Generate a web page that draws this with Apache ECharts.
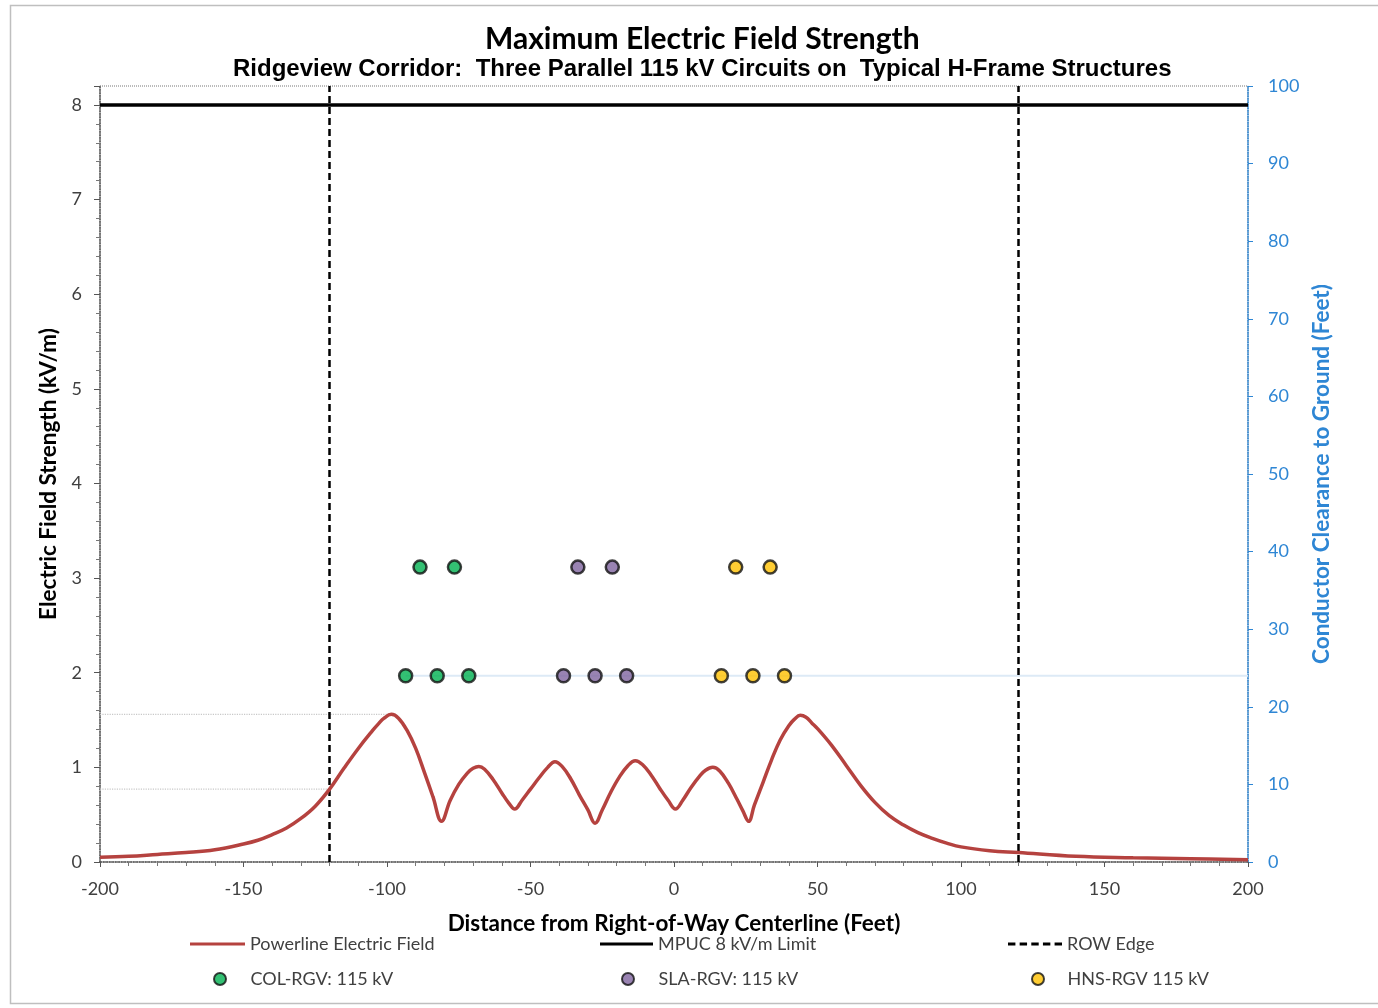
<!DOCTYPE html>
<html>
<head>
<meta charset="utf-8">
<script src="https://cdn.jsdelivr.net/npm/echarts@6/dist/echarts.min.js"></script>
<style>
  html, body { margin: 0; padding: 0; background: #ffffff; }
  #chart { width: 1378px; height: 1008px; }
</style>
</head>
<body>
<div id="chart"></div>
<script>
// Calculated electric field profile across the corridor (feet, kV/m)
const distanceFt = [
  -200, -190, -180, -170, -160, -150, -145, -140, -135, -130, -125, -120,
  -115, -110, -105, -103, -101, -98.5, -96, -93, -90, -87, -84, -81,
  -78, -75, -72, -70, -68, -66, -63, -60, -57.5, -55.5, -53, -50, -47, -44,
  -41.5, -39, -36, -33, -30, -27.5, -25, -22, -19, -16, -13.5, -11, -8, -5,
  -2, 0.5, 3, 6, 9, 11, 13.5, 16, 19, 22, 24, 26, 28, 31, 34, 37, 40, 42,
  44, 46, 48, 50, 55, 60, 65, 70, 75, 80, 85, 90, 95, 100, 110, 120, 140, 160,
  180, 200
];
const fieldKvPerM = [
  0.05, 0.06, 0.08, 0.10, 0.13, 0.19, 0.23, 0.29, 0.36, 0.46, 0.59, 0.77,
  0.99, 1.20, 1.39, 1.46, 1.52, 1.56, 1.52, 1.39, 1.20, 0.95, 0.69, 0.43,
  0.65, 0.82, 0.94, 0.99, 1.01, 0.98, 0.87, 0.73, 0.62, 0.56, 0.65, 0.77, 0.89, 1.00,
  1.06, 1.01, 0.88, 0.71, 0.55, 0.41, 0.55, 0.74, 0.90, 1.02, 1.07, 1.03, 0.92, 0.78,
  0.65, 0.56, 0.65, 0.79, 0.91, 0.97, 1.00, 0.96, 0.83, 0.66, 0.54, 0.43, 0.60, 0.84,
  1.08, 1.29, 1.44, 1.51,
  1.55, 1.53, 1.47, 1.41, 1.23, 1.02, 0.81, 0.63, 0.49, 0.39, 0.31, 0.25, 0.20, 0.16,
  0.12, 0.10, 0.06, 0.045, 0.035, 0.025
];

// Regulatory limit and right-of-way edges
const mpucLimitKv = 8;
const rowEdgeFt = [-120, 120];

// Conductor positions (offset from centerline, ft) and clearance to ground (ft)
const colOffsetFt = [-93.5, -82.5, -71.5, -88.5, -76.5];
const colClearanceFt = [24, 24, 24, 38, 38];
const slaOffsetFt = [-38.5, -27.5, -16.5, -33.5, -21.5];
const slaClearanceFt = [24, 24, 24, 38, 38];
const hnsOffsetFt = [16.5, 27.5, 38.5, 21.5, 33.5];
const hnsClearanceFt = [24, 24, 24, 38, 38];

// Axis tick values
const xTicks = [-200, -150, -100, -50, 0, 50, 100, 150, 200];
const fieldTicks = [0, 1, 2, 3, 4, 5, 6, 7, 8];
const clearanceTicks = [0, 10, 20, 30, 40, 50, 60, 70, 80, 90, 100];

const pairs = (xs, ys) => xs.map((x, i) => [x, ys[i]]);

const fieldData = pairs(distanceFt, fieldKvPerM);

// Reference lines: peak field and field at the west ROW edge
let peakIdx = 0;
fieldKvPerM.forEach((v, i) => { if (v > fieldKvPerM[peakIdx]) peakIdx = i; });
const edgeIdx = distanceFt.indexOf(rowEdgeFt[0]);
const peakRef = [[xTicks[0], fieldKvPerM[peakIdx]], [distanceFt[peakIdx], fieldKvPerM[peakIdx]]];
const edgeRef = [[xTicks[0], fieldKvPerM[edgeIdx]], [distanceFt[edgeIdx], fieldKvPerM[edgeIdx]]];

// Lower conductor level guide
const lowerLevel = [[colOffsetFt[0], colClearanceFt[0]], [xTicks[xTicks.length - 1], colClearanceFt[0]]];

const FONT = 'Lato, "Open Sans", sans-serif';
const TXT = '#404040';
const BLUE = '#2E86D4';

// Legend glyphs: a solid bar and a five-dash bar
const SOLID_ICON = 'path://M0,0 L55,0 L55,3 L0,3 Z';
const DASH_ICON = 'path://M0,0h7v3h-7z M11,0h7v3h-7z M22,0h7v3h-7z M33,0h7v3h-7z M44,0h7v3h-7z';

const chart = echarts.init(document.getElementById('chart'), null, { renderer: 'canvas' });

const legendBase = {
  orient: 'horizontal',
  itemGap: 0,
  padding: 0,
  textStyle: { fontFamily: FONT, fontSize: 18, color: TXT },
  selectedMode: false
};

chart.setOption({
  animation: false,
  backgroundColor: '#ffffff',
  title: [
    {
      text: 'Maximum Electric Field Strength',
      left: 480, top: 19,
      textStyle: { fontFamily: FONT, fontWeight: 'bold', fontSize: 30, color: '#000' }
    },
    {
      text: 'Ridgeview Corridor:  Three Parallel 115 kV Circuits on  Typical H-Frame Structures',
      left: 228, top: 52,
      textStyle: { fontFamily: '"Liberation Sans", Arial, sans-serif', fontWeight: 'bold', fontSize: 24, color: '#000' }
    }
  ],
  graphic: [
    {
      type: 'rect', silent: true, z: -10,
      shape: { x: 10.5, y: 5.5, width: 1400, height: 998 },
      style: { fill: 'none', stroke: '#BFBFBF', lineWidth: 1.5 }
    }
  ],
  grid: {
    left: 100, right: 130, top: 86, bottom: 146,
    show: true, borderColor: '#777', borderWidth: 1,
    borderType: 'dotted', backgroundColor: 'transparent'
  },
  legend: [
    Object.assign({}, legendBase, { left: 190, top: 935, itemWidth: 55, itemHeight: 14,
      data: [{ name: 'Powerline Electric Field', icon: SOLID_ICON }] }),
    Object.assign({}, legendBase, { left: 600, top: 935, itemWidth: 53, itemHeight: 14,
      data: [{ name: 'MPUC 8 kV/m Limit', icon: SOLID_ICON }] }),
    Object.assign({}, legendBase, { left: 1008, top: 935, itemWidth: 54, itemHeight: 14,
      data: [{ name: 'ROW Edge', icon: DASH_ICON }] }),
    Object.assign({}, legendBase, { left: 213, top: 970, itemWidth: 51, itemHeight: 12, data: ['COL-RGV: 115 kV'] }),
    Object.assign({}, legendBase, { left: 621, top: 970, itemWidth: 51, itemHeight: 12, data: ['SLA-RGV: 115 kV'] }),
    Object.assign({}, legendBase, { left: 1031, top: 970, itemWidth: 49, itemHeight: 12, data: ['HNS-RGV 115 kV'] })
  ],
  xAxis: {
    type: 'value',
    min: xTicks[0], max: xTicks[xTicks.length - 1], interval: 50,
    name: 'Distance from Right-of-Way Centerline (Feet)',
    nameLocation: 'middle', nameGap: 50,
    nameTextStyle: { fontFamily: FONT, fontWeight: 'bold', fontSize: 22.5, color: '#000' },
    axisLine: { show: true, onZero: false, lineStyle: { color: '#555', width: 1.5, type: 'dotted' } },
    axisTick: { show: true, length: 5, lineStyle: { color: '#555' } },
    minorTick: { show: true, splitNumber: 5, length: 4, lineStyle: { color: '#777' } },
    axisLabel: { fontFamily: FONT, fontSize: 18, color: TXT, margin: 18 },
    splitLine: { show: false }
  },
  yAxis: [
    {
      type: 'value', min: 0, max: 8.2, interval: 1,
      name: 'Electric Field Strength (kV/m)',
      nameLocation: 'middle', nameGap: 36,
      nameTextStyle: { fontFamily: FONT, fontWeight: 'bold', fontSize: 22.5, color: '#000' },
      axisLine: { show: true, onZero: false, lineStyle: { color: '#555', width: 1.5, type: 'dotted' } },
      axisTick: { show: true, length: 6, lineStyle: { color: '#555' } },
      minorTick: { show: true, splitNumber: 5, length: 4, lineStyle: { color: '#777' } },
      axisLabel: { fontFamily: FONT, fontSize: 18, color: TXT, margin: 18, showMaxLabel: false },
      splitLine: { show: false }
    },
    {
      type: 'value', min: 0, max: 100, interval: 10, position: 'right',
      name: 'Conductor Clearance to Ground (Feet)',
      nameLocation: 'middle', nameGap: 62,
      nameTextStyle: { fontFamily: FONT, fontWeight: 'bold', fontSize: 22.5, color: BLUE },
      axisLine: { show: true, onZero: false, lineStyle: { color: BLUE, width: 1.5, type: 'dotted' } },
      axisTick: { show: true, length: 5, lineStyle: { color: BLUE } },
      axisLabel: { fontFamily: FONT, fontSize: 18, color: BLUE, margin: 20 },
      splitLine: { show: false }
    }
  ],
  series: [
    {
      name: 'peak-ref', type: 'line', data: peakRef, symbol: 'none', silent: true,
      lineStyle: { color: '#C8C8C8', width: 1.2, type: 'dotted' }, z: 1
    },
    {
      name: 'edge-ref', type: 'line', data: edgeRef, symbol: 'none', silent: true,
      lineStyle: { color: '#C8C8C8', width: 1.2, type: 'dotted' }, z: 1
    },
    {
      name: 'lower-level', type: 'line', yAxisIndex: 1, data: lowerLevel, symbol: 'none', silent: true,
      lineStyle: { color: '#DDEAF6', width: 2 }, z: 1
    },
    {
      name: 'Powerline Electric Field', type: 'line', data: fieldData,
      symbol: 'none', smooth: 0.4,
      lineStyle: { color: '#B5423F', width: 3.5 }, itemStyle: { color: '#B5423F' }, z: 5
    },
    {
      name: 'MPUC 8 kV/m Limit', type: 'line',
      data: [[xTicks[0], mpucLimitKv], [xTicks[xTicks.length - 1], mpucLimitKv]],
      symbol: 'none',
      lineStyle: { color: '#000', width: 3.5 }, itemStyle: { color: '#000' }, z: 4
    },
    {
      name: 'ROW Edge', type: 'line', data: [], symbol: 'none',
      lineStyle: { color: '#000', width: 2.5, type: [7, 4] }, itemStyle: { color: '#000' },
      markLine: {
        silent: true, symbol: ['none', 'none'], label: { show: false },
        lineStyle: { color: '#000', width: 2.5, type: [7, 4] },
        data: rowEdgeFt.map(x => ({ xAxis: x }))
      },
      z: 3
    },
    {
      name: 'COL-RGV: 115 kV', type: 'scatter', yAxisIndex: 1,
      data: pairs(colOffsetFt, colClearanceFt), symbol: 'circle', symbolSize: 13,
      itemStyle: { color: '#00B050', borderColor: '#111', borderWidth: 2.5 }, z: 6
    },
    {
      name: 'SLA-RGV: 115 kV', type: 'scatter', yAxisIndex: 1,
      data: pairs(slaOffsetFt, slaClearanceFt), symbol: 'circle', symbolSize: 13,
      itemStyle: { color: '#7F649F', borderColor: '#111', borderWidth: 2.5 }, z: 6
    },
    {
      name: 'HNS-RGV 115 kV', type: 'scatter', yAxisIndex: 1,
      data: pairs(hnsOffsetFt, hnsClearanceFt), symbol: 'circle', symbolSize: 13,
      itemStyle: { color: '#FFC000', borderColor: '#111', borderWidth: 2.5 }, z: 6
    }
  ]
});
</script>
</body>
</html>
